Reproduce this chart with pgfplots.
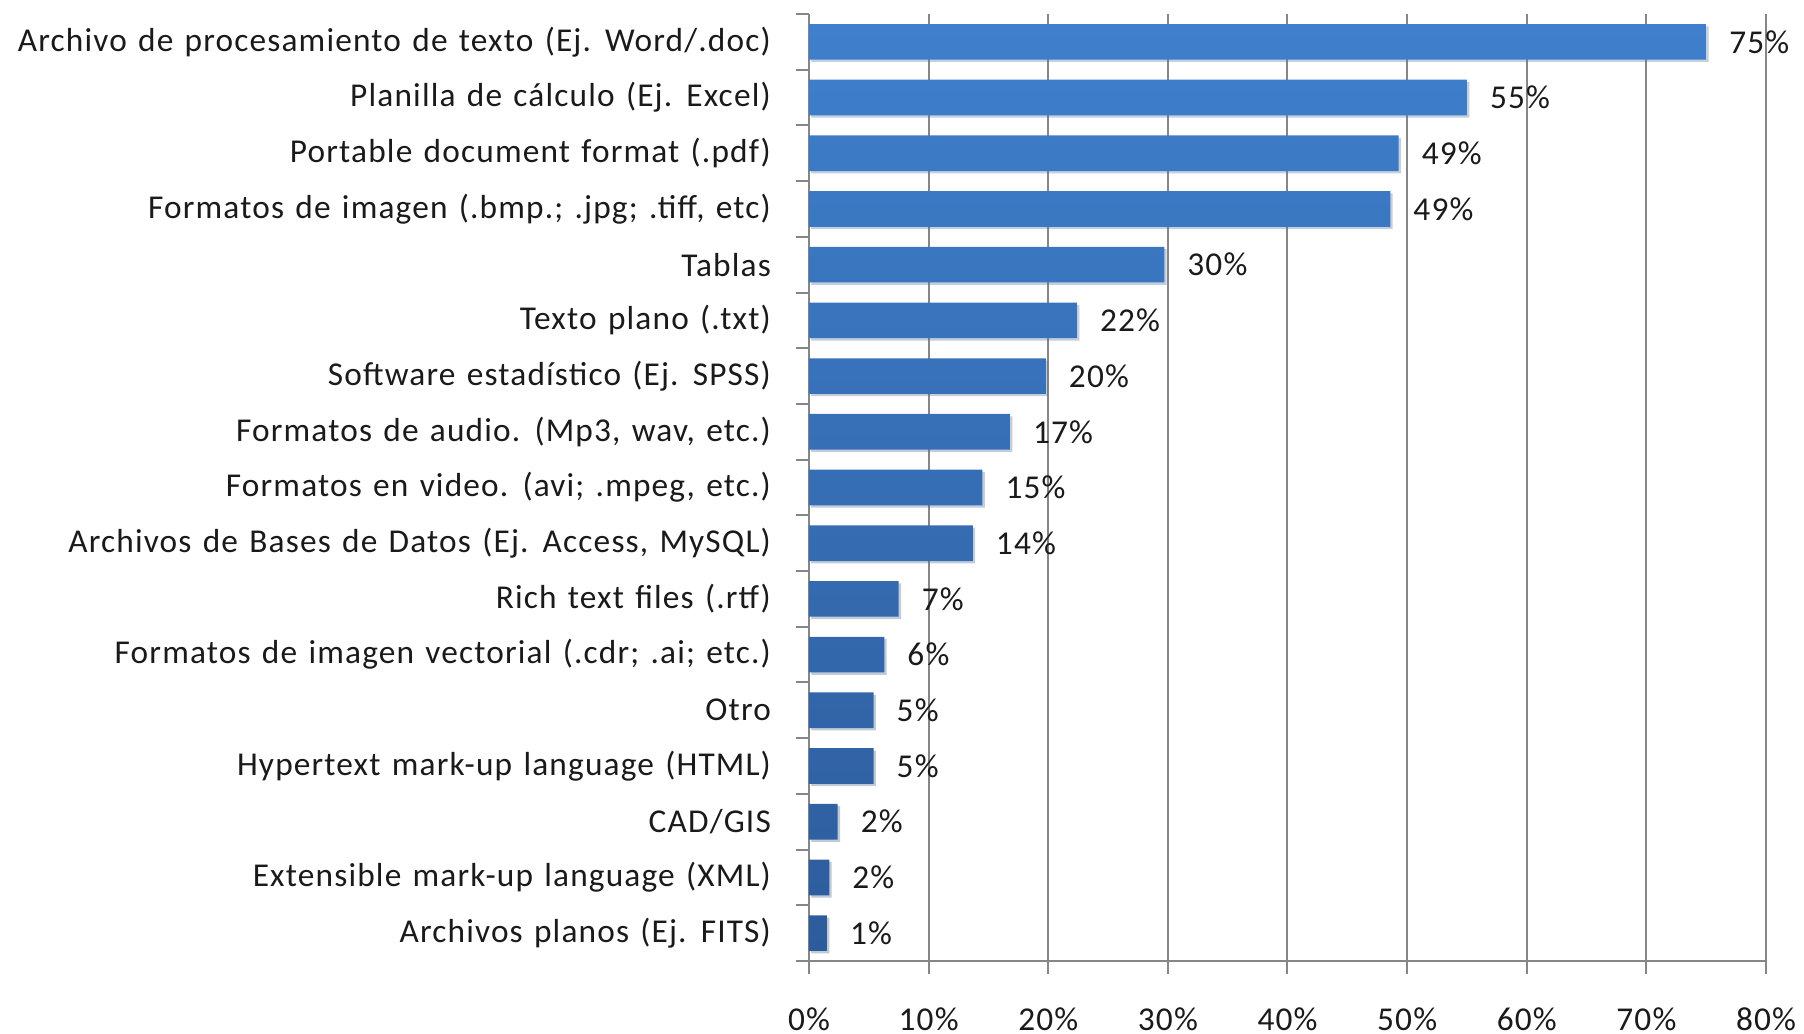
\documentclass[border=0pt]{standalone}
\usepackage{pgfplots}
\pgfplotsset{compat=1.18}
\usepackage{fontspec}
\setmainfont{Carlito}[LetterSpace=3.5, WordSpace=1.3]
\usetikzlibrary{shadows}
\definecolor{bartop}{HTML}{3F7FCC}
\definecolor{barbot}{HTML}{2D5C9C}
\definecolor{gridc}{HTML}{868686}
\definecolor{txt}{HTML}{1A1A1A}
\pgfplotstableread{
y v lab
16 75.0 75
15 55.0 55
14 49.3 49
13 48.6 49
12 29.7 30
11 22.4 22
10 19.8 20
9 16.8 17
8 14.5 15
7 13.7 14
6 7.5 7
5 6.3 6
4 5.4 5
3 5.4 5
2 2.4 2
1 1.7 2
0 1.5 1
}\datatable
\begin{document}
\begin{tikzpicture}
\begin{axis}[
  at={(0,0)}, anchor=south west,
  scale only axis, width=287.1pt, height=284.1pt,
  xmin=0, xmax=80, ymin=-0.5, ymax=16.5,
  axis lines*=left,
  axis line style={draw=gridc, line width=0.6pt},
  tick align=outside,
  major tick length=3.9pt,
  tick style={draw=gridc, line width=0.6pt},
  xtick={0,10,...,80},
  xticklabel={\pgfmathprintnumber{\tick}\%},
  xticklabel style={yshift=-6.5pt},
  xmajorgrids,
  grid style={draw=gridc, line width=0.6pt},
  ytick={-0.5,0.5,...,15.5},
  extra y ticks={16.5}, extra y tick labels={},
  yticklabels={
    Archivos planos (Ej. FITS),
    Extensible mark-up language (XML),
    CAD/GIS,
    Hypertext mark-up language (HTML),
    Otro,
    Formatos de imagen vectorial (.cdr; .ai; etc.),
    Rich text files (.rtf),
    Archivos de Bases de Datos (Ej. Access{,} MySQL),
    Formatos en video. (avi; .mpeg{,} etc.),
    Formatos de audio. (Mp3{,} wav{,} etc.),
    Software estadístico (Ej. SPSS),
    Texto plano (.txt),
    Tablas,
    Formatos de imagen (.bmp.; .jpg; .tiff{,} etc),
    Portable document format (.pdf),
    Planilla de cálculo (Ej. Excel),
    Archivo de procesamiento de texto (Ej. Word/.doc)
  },
  yticklabel style={yshift=8.36pt, xshift=-4pt, text=txt},
  xticklabel style={text=txt},
  /pgf/number format/assume math mode=true,
  tick label style={font=\fontsize{10}{12}\selectfont},
]
\addplot[xbar, bar width=0.64, draw=none, top color=bartop, bottom color=barbot,
  drop shadow={opacity=0.2, shadow xshift=0.7pt, shadow yshift=-0.7pt},
  point meta=explicit,
  nodes near coords={\pgfmathprintnumber[fixed,precision=0]{\pgfplotspointmeta}\%},
  nodes near coords style={anchor=west, xshift=3.4pt, text=txt, font=\fontsize{10}{12}\selectfont, /pgf/number format/assume math mode=true},
] table[x=v, y=y, meta=lab] {\datatable};
\end{axis}
\pgfresetboundingbox
\path[use as bounding box] (-242.7pt,-21.9pt) rectangle (298.5pt,288.3pt);
\end{tikzpicture}
\end{document}
